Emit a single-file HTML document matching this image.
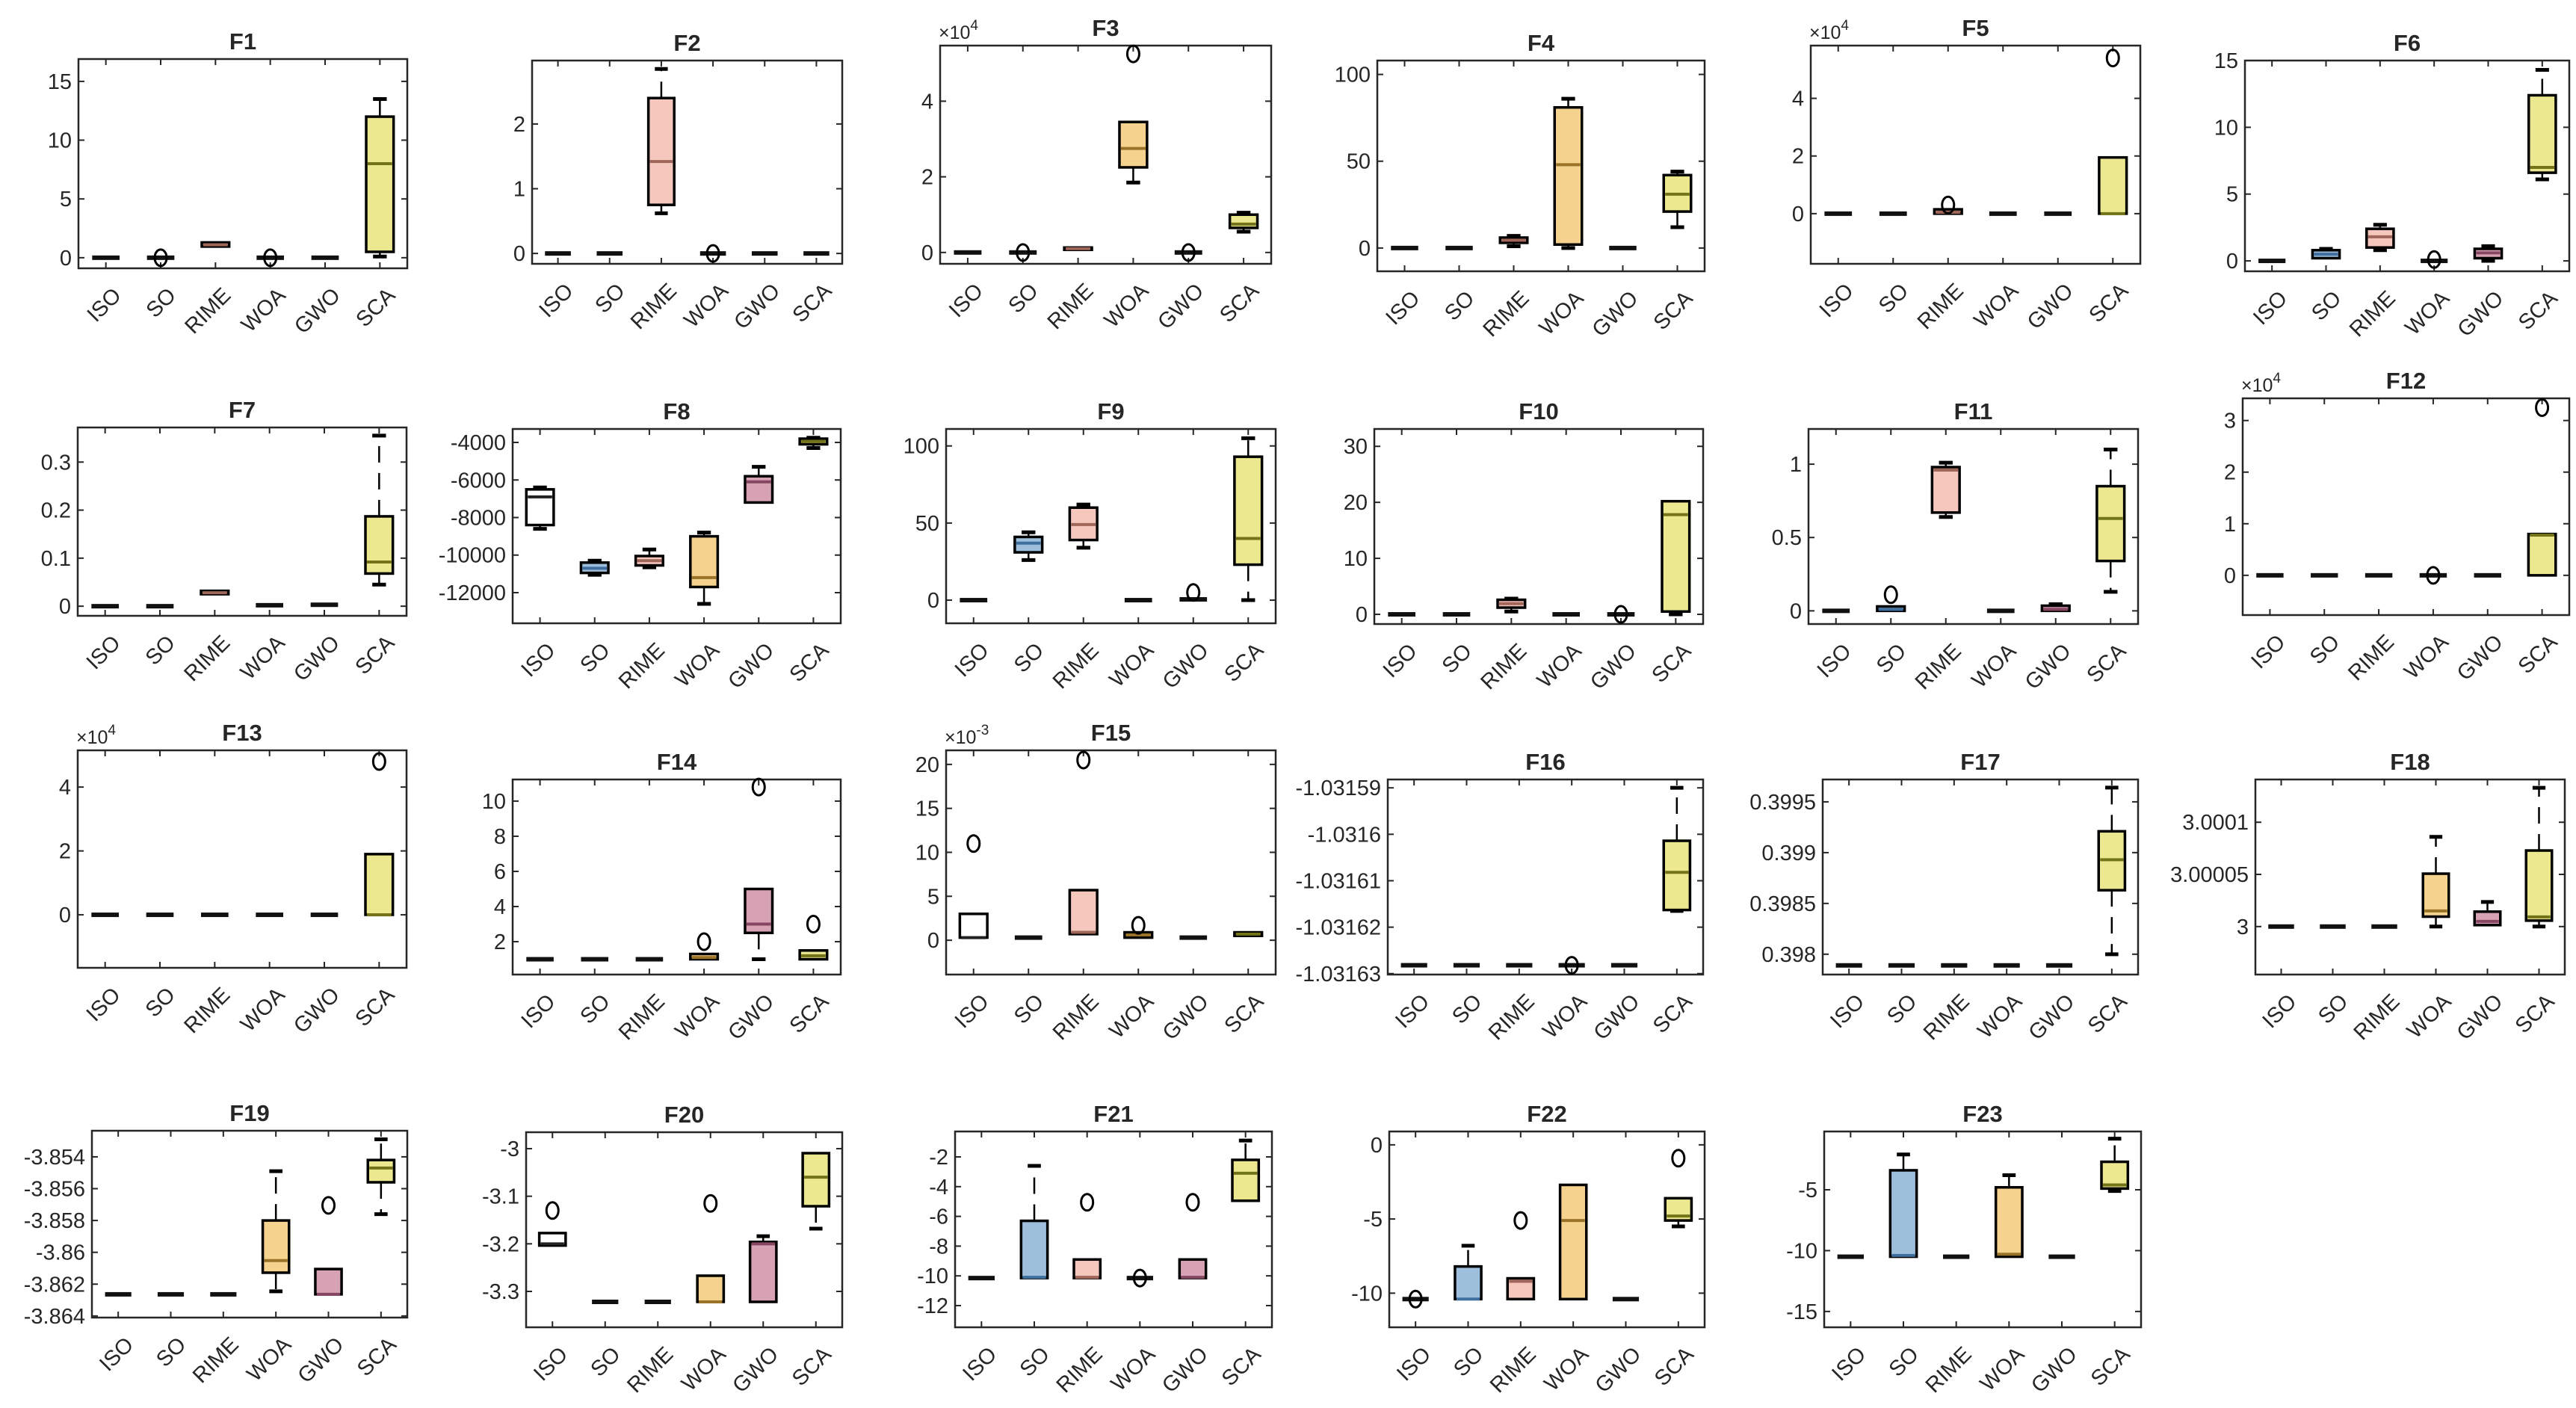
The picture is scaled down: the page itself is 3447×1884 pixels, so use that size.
<!DOCTYPE html>
<html><head><meta charset="utf-8"><title>Boxplots F1-F23</title>
<style>
html,body{margin:0;padding:0;background:#fff;}
svg{display:block;}
text{font-family:"Liberation Sans",Arial,sans-serif;fill:#262626;}
</style></head>
<body>
<svg id="fig" xmlns="http://www.w3.org/2000/svg" width="3447" height="1884" viewBox="0 0 3447 1884"></svg>
<script>
const categories = ["ISO","SO","RIME","WOA","GWO","SCA"];
const fills = ["#ffffff","#9ebfdc","#f6c7bd","#f6d28f","#d8a2b5","#ebe88f"];
const medCols = ["#222222","#3f6f9f","#a0665a","#9a7228","#864662","#737318"];

// ---- per-panel data: lo whisker, q1, median, q3, hi whisker, outliers ----
const F1_lo=[0,0,0.9,0,0,0.1], F1_q1=[0,0,0.95,0,0,0.5], F1_med=[0,0,1.1,0,0,8], F1_q3=[0,0,1.3,0,0,12], F1_hi=[0,0,1.35,0,0,13.5], F1_out=[[],[0],[],[0],[],[]];
const F2_lo=[0,0,0.62,0,0,0], F2_q1=[0,0,0.75,0,0,0], F2_med=[0,0,1.42,0,0,0], F2_q3=[0,0,2.4,0,0,0], F2_hi=[0,0,2.85,0,0,0], F2_out=[[],[],[],[0],[],[]];
const F3_lo=[0,0,0.07,1.85,0,0.55], F3_q1=[0,0,0.07,2.25,0,0.65], F3_med=[0,0,0.1,2.75,0,0.75], F3_q3=[0,0,0.13,3.45,0,1.0], F3_hi=[0,0,0.13,3.45,0,1.05], F3_out=[[],[0],[],[5.25],[0],[]];
const F4_lo=[0,0,1,0,0,12], F4_q1=[0,0,3,2,0,21], F4_med=[0,0,4.5,48,0,31], F4_q3=[0,0,6,81,0,42], F4_hi=[0,0,7,86,0,44], F4_out=[[],[],[],[],[],[]];
const F5_lo=[0,0,0,0,0,0], F5_q1=[0,0,0,0,0,0], F5_med=[0,0,0.05,0,0,0], F5_q3=[0,0,0.15,0,0,1.95], F5_hi=[0,0,0.15,0,0,1.95], F5_out=[[],[],[0.3],[],[],[5.4]];
const F6_lo=[0,0.2,0.8,0,0,6.1], F6_q1=[0,0.2,1.0,0,0.2,6.6], F6_med=[0,0.5,1.8,0,0.6,7.0], F6_q3=[0,0.8,2.4,0,0.9,12.4], F6_hi=[0,0.9,2.7,0,1.1,14.3], F6_out=[[],[],[],[0.1],[],[]];
const F7_lo=[0,0,0.024,0.001,0.002,0.045], F7_q1=[0,0,0.025,0.001,0.002,0.068], F7_med=[0,0,0.028,0.002,0.003,0.092], F7_q3=[0,0,0.032,0.003,0.004,0.187], F7_hi=[0,0,0.033,0.004,0.005,0.355], F7_out=[[],[],[],[],[],[]];
const F8_lo=[-8600,-11050,-10650,-12600,-7200,-4300], F8_q1=[-8400,-10950,-10550,-11700,-7200,-4100], F8_med=[-6900,-10700,-10300,-11200,-6100,-3950], F8_q3=[-6500,-10400,-10050,-9000,-5800,-3800], F8_hi=[-6400,-10300,-9700,-8800,-5300,-3750], F8_out=[[],[],[],[],[],[]];
const F9_lo=[0,26,34,0,0,0], F9_q1=[0,31,39,0,0,23], F9_med=[0,37,49,0,0.5,40], F9_q3=[0,41,60,0,1,93], F9_hi=[0,44,62,0,1,105], F9_out=[[],[],[],[],[5],[]];
const F10_lo=[0,0,0.5,0,0,0], F10_q1=[0,0,1.2,0,0,0.5], F10_med=[0,0,1.9,0,0,17.8], F10_q3=[0,0,2.6,0,0,20.2], F10_hi=[0,0,2.8,0,0,20.3], F10_out=[[],[],[],[],[0],[]];
const F11_lo=[0,0,0.64,0,0,0.13], F11_q1=[0,0,0.67,0,0,0.34], F11_med=[0,0.01,0.96,0,0.01,0.63], F11_q3=[0,0.03,0.98,0,0.035,0.85], F11_hi=[0,0.03,1.01,0,0.045,1.1], F11_out=[[],[0.11],[],[],[],[]];
const F12_lo=[0,0,0,0,0,0], F12_q1=[0,0,0,0,0,0], F12_med=[0,0,0,0,0,0.78], F12_q3=[0,0,0,0,0,0.8], F12_hi=[0,0,0,0,0,0.8], F12_out=[[],[],[],[0],[],[3.25]];
const F13_lo=[0,0,0,0,0,0], F13_q1=[0,0,0,0,0,0], F13_med=[0,0,0,0,0,0], F13_q3=[0,0,0,0,0,1.9], F13_hi=[0,0,0,0,0,1.9], F13_out=[[],[],[],[],[],[4.8]];
const F14_lo=[1,1,1,1,1,1], F14_q1=[1,1,1,1,2.5,1], F14_med=[1,1,1,1.1,3,1.2], F14_q3=[1,1,1,1.3,5,1.5], F14_hi=[1,1,1,1.3,5,1.5], F14_out=[[],[],[],[2],[10.8],[3]];
const F15_lo=[0.3,0.3,0.7,0.3,0.3,0.5], F15_q1=[0.3,0.3,0.7,0.3,0.3,0.5], F15_med=[0.3,0.3,0.9,0.6,0.3,0.7], F15_q3=[3,0.3,5.7,0.9,0.3,0.9], F15_hi=[3,0.3,5.7,0.9,0.3,0.9], F15_out=[[11],[],[20.5],[1.7],[],[]];
const F16_lo=[-1.0316282,-1.0316282,-1.0316282,-1.0316282,-1.0316282,-1.0316165], F16_q1=[-1.0316282,-1.0316282,-1.0316282,-1.0316282,-1.0316282,-1.0316163], F16_med=[-1.0316282,-1.0316282,-1.0316282,-1.0316282,-1.0316282,-1.0316082], F16_q3=[-1.0316282,-1.0316282,-1.0316282,-1.0316282,-1.0316282,-1.0316014], F16_hi=[-1.0316282,-1.0316282,-1.0316282,-1.0316282,-1.0316282,-1.03159], F16_out=[[],[],[],[-1.0316282],[],[]];
const F17_lo=[0.39789,0.39789,0.39789,0.39789,0.39789,0.398], F17_q1=[0.39789,0.39789,0.39789,0.39789,0.39789,0.39863], F17_med=[0.39789,0.39789,0.39789,0.39789,0.39789,0.39893], F17_q3=[0.39789,0.39789,0.39789,0.39789,0.39789,0.39921], F17_hi=[0.39789,0.39789,0.39789,0.39789,0.39789,0.39964], F17_out=[[],[],[],[],[],[]];
const F18_lo=[3,3,3,3,3.0000014,3], F18_q1=[3,3,3,3.0000095,3.0000014,3.0000057], F18_med=[3,3,3,3.000015,3.000005,3.0000093], F18_q3=[3,3,3,3.0000507,3.0000143,3.0000729], F18_hi=[3,3,3,3.000086,3.0000236,3.000133], F18_out=[[],[],[],[],[],[]];
const F19_lo=[-3.86264,-3.86264,-3.86264,-3.86245,-3.86264,-3.8576], F19_q1=[-3.86264,-3.86264,-3.86264,-3.86128,-3.86264,-3.8556], F19_med=[-3.86264,-3.86264,-3.86264,-3.86052,-3.86264,-3.8547], F19_q3=[-3.86264,-3.86264,-3.86264,-3.858,-3.86105,-3.8542], F19_hi=[-3.86264,-3.86264,-3.86264,-3.8549,-3.86105,-3.8529], F19_out=[[],[],[],[],[-3.85705],[]];
const F20_lo=[-3.2036,-3.322,-3.322,-3.322,-3.322,-3.168], F20_q1=[-3.2036,-3.322,-3.322,-3.322,-3.322,-3.121], F20_med=[-3.2,-3.322,-3.322,-3.322,-3.2,-3.06], F20_q3=[-3.1774,-3.322,-3.322,-3.267,-3.196,-3.0095], F20_hi=[-3.1774,-3.322,-3.322,-3.267,-3.184,-3.0095], F20_out=[[-3.13],[],[],[-3.115],[],[]];
const F21_lo=[-10.15,-10.15,-10.15,-10.15,-10.15,-4.95], F21_q1=[-10.15,-10.15,-10.15,-10.15,-10.15,-4.95], F21_med=[-10.15,-10.1,-10.1,-10.15,-10.1,-3.1], F21_q3=[-10.15,-6.3,-8.9,-10.15,-8.9,-2.2], F21_hi=[-10.15,-2.6,-8.9,-10.15,-8.9,-0.9], F21_out=[[],[],[-5.05],[-10.15],[-5.05],[]];
const F22_lo=[-10.4,-10.4,-10.4,-10.4,-10.4,-5.5], F22_q1=[-10.4,-10.4,-10.4,-10.4,-10.4,-5.1], F22_med=[-10.4,-10.4,-9.2,-5.1,-10.4,-4.8], F22_q3=[-10.4,-8.2,-9.0,-2.7,-10.4,-3.6], F22_hi=[-10.4,-6.8,-9.0,-2.7,-10.4,-3.6], F22_out=[[-10.4],[],[-5.1],[],[],[-0.9]];
const F23_lo=[-10.5,-10.5,-10.5,-10.5,-10.5,-5.1], F23_q1=[-10.5,-10.5,-10.5,-10.5,-10.5,-4.9], F23_med=[-10.5,-10.4,-10.5,-10.3,-10.5,-4.6], F23_q3=[-10.5,-3.4,-10.5,-4.8,-10.5,-2.7], F23_hi=[-10.5,-2.1,-10.5,-3.8,-10.5,-0.8], F23_out=[[],[],[],[],[],[]];

// ---- axis ranges & tick labels ----
const ylims = {F1:[-0.9,16.9],F2:[-0.16,2.98],F3:[-0.3,5.47],F4:[-13.4,108],F5:[-1.74,5.83],F6:[-0.78,15.0],
 F7:[-0.02,0.372],F8:[-13633,-3283],F9:[-15,111],F10:[-1.73,33.1],F11:[-0.09,1.24],F12:[-0.77,3.43],
 F13:[-1.66,5.15],F14:[0.13,11.23],F15:[-3.9,21.6],F16:[-1.0316302,-1.0315882],F17:[0.3978,0.39972],F18:[2.999954,3.000141],
 F19:[-3.8641,-3.85236],F20:[-3.3754,-2.9655],F21:[-13.46,-0.29],F22:[-12.3,0.9],F23:[-16.3,-0.21]};
const ticks = {F1:[0,5,10,15],F2:[0,1,2],F3:[0,2,4],F4:[0,50,100],F5:[0,2,4],F6:[0,5,10,15],
 F7:[0,0.1,0.2,0.3],F8:[-12000,-10000,-8000,-6000,-4000],F9:[0,50,100],F10:[0,10,20,30],F11:[0,0.5,1],F12:[0,1,2,3],
 F13:[0,2,4],F14:[2,4,6,8,10],F15:[0,5,10,15,20],F16:[-1.03163,-1.03162,-1.03161,-1.0316,-1.03159],F17:[0.398,0.3985,0.399,0.3995],F18:[3,3.00005,3.0001],
 F19:[-3.864,-3.862,-3.86,-3.858,-3.856,-3.854],F20:[-3.3,-3.2,-3.1,-3],F21:[-12,-10,-8,-6,-4,-2],F22:[-10,-5,0],F23:[-15,-10,-5]};
const tickLabels = {F16:["-1.03163","-1.03162","-1.03161","-1.0316","-1.03159"],F18:["3","3.00005","3.0001"],F17:["0.398","0.3985","0.399","0.3995"]};
const exponents = {F3:"4",F5:"4",F12:"4",F13:"4",F15:"-3"};

// ---- layout (pixel boxes: left,right,top,bottom) ----
const layout = {F1:[105,545,79,359],F2:[712,1127,81,353],F3:[1258,1701,61,353],F4:[1843,2281,81,363],F5:[2423,2864,61,353],F6:[3004,3438,81,363],
 F7:[104,544,572,824],F8:[686,1125,574,834],F9:[1266,1707,574,834],F10:[1839,2279,574,835],F11:[2420,2861,574,835],F12:[3001,3438,533,823],
 F13:[104,544,1004,1295],F14:[686,1125,1043,1304],F15:[1266,1707,1004,1304],F16:[1857,2279,1043,1304],F17:[2439,2861,1043,1304],F18:[3018,3432,1043,1304],
 F19:[123,545,1513,1763],F20:[704,1127,1515,1776],F21:[1278,1702,1514,1776],F22:[1859,2281,1514,1776],F23:[2441,2865,1514,1776]};

const panelData = {F1:[F1_lo,F1_q1,F1_med,F1_q3,F1_hi,F1_out],F2:[F2_lo,F2_q1,F2_med,F2_q3,F2_hi,F2_out],F3:[F3_lo,F3_q1,F3_med,F3_q3,F3_hi,F3_out],
 F4:[F4_lo,F4_q1,F4_med,F4_q3,F4_hi,F4_out],F5:[F5_lo,F5_q1,F5_med,F5_q3,F5_hi,F5_out],F6:[F6_lo,F6_q1,F6_med,F6_q3,F6_hi,F6_out],
 F7:[F7_lo,F7_q1,F7_med,F7_q3,F7_hi,F7_out],F8:[F8_lo,F8_q1,F8_med,F8_q3,F8_hi,F8_out],F9:[F9_lo,F9_q1,F9_med,F9_q3,F9_hi,F9_out],
 F10:[F10_lo,F10_q1,F10_med,F10_q3,F10_hi,F10_out],F11:[F11_lo,F11_q1,F11_med,F11_q3,F11_hi,F11_out],F12:[F12_lo,F12_q1,F12_med,F12_q3,F12_hi,F12_out],
 F13:[F13_lo,F13_q1,F13_med,F13_q3,F13_hi,F13_out],F14:[F14_lo,F14_q1,F14_med,F14_q3,F14_hi,F14_out],F15:[F15_lo,F15_q1,F15_med,F15_q3,F15_hi,F15_out],
 F16:[F16_lo,F16_q1,F16_med,F16_q3,F16_hi,F16_out],F17:[F17_lo,F17_q1,F17_med,F17_q3,F17_hi,F17_out],F18:[F18_lo,F18_q1,F18_med,F18_q3,F18_hi,F18_out],
 F19:[F19_lo,F19_q1,F19_med,F19_q3,F19_hi,F19_out],F20:[F20_lo,F20_q1,F20_med,F20_q3,F20_hi,F20_out],F21:[F21_lo,F21_q1,F21_med,F21_q3,F21_hi,F21_out],
 F22:[F22_lo,F22_q1,F22_med,F22_q3,F22_hi,F22_out],F23:[F23_lo,F23_q1,F23_med,F23_q3,F23_hi,F23_out]};

const NS="http://www.w3.org/2000/svg";
const svg=document.getElementById('fig');
function mk(tag,attrs,parent){const e=document.createElementNS(NS,tag);for(const k in attrs)e.setAttribute(k,attrs[k]);(parent||svg).appendChild(e);return e;}

Object.keys(layout).forEach(function(name){
  const [L,R,T,B]=layout[name];
  const [ymin,ymax]=ylims[name];
  const yS=v=>B-(v-ymin)/(ymax-ymin)*(B-T);
  const step=(R-L)/6;
  const xS=i=>L+(i+0.5)*step;
  const g=mk('g',{});
  
  
  const fr=mk('rect',{x:L,y:T,width:R-L,height:B-T,fill:'#fff',stroke:'#262626','stroke-width':2.5},g);
  
  
  const t=mk('text',{x:(L+R)/2,y:T-13,'text-anchor':'middle','font-size':31,'font-weight':'bold',fill:'#000'},g);
  t.textContent=name;
  
  
  if(exponents[name]){
    const ex=mk('text',{x:L-2,y:T-9,'font-size':25},g);
    
    
    ex.appendChild(document.createTextNode('\u00d710'));
    const sp=mk('tspan',{dy:-12,'font-size':19},ex);sp.textContent=exponents[name];
  }
  const tl=tickLabels[name];
  ticks[name].forEach(function(v,k){
    const y=yS(v);
    mk('line',{x1:L,x2:L+8,y1:y,y2:y,stroke:'#262626','stroke-width':2},g);
    mk('line',{x1:R,x2:R-8,y1:y,y2:y,stroke:'#262626','stroke-width':2},g);
    const lab=mk('text',{x:L-9,y:y+10,'text-anchor':'end','font-size':29},g);
    lab.textContent=tl?tl[k]:String(v);
    
    
  });
  categories.forEach(function(c,i){
    const x=xS(i);
    mk('line',{x1:x,x2:x,y1:B,y2:B-8,stroke:'#262626','stroke-width':2},g);
    mk('line',{x1:x,x2:x,y1:T,y2:T+8,stroke:'#262626','stroke-width':2},g);
    const lab=mk('text',{x:0,y:0,'text-anchor':'end','font-size':29,transform:'translate('+(x+22)+','+(B+38)+') rotate(-45)'},g);
    lab.textContent=c;
    
    
  });
  const [lo,q1,md,q3,hi,out]=panelData[name];
  const bw=step*0.5, cw=step*0.25;
  categories.forEach(function(c,i){
    const x=xS(i);
    const bg=mk('g',{},g);
    
    
    const yq1=yS(q1[i]),yq3=yS(q3[i]),ylo=yS(lo[i]),yhi=yS(hi[i]),ym=yS(md[i]);
    if(yhi<yq3-1){
      mk('line',{x1:x,x2:x,y1:yq3,y2:yhi,stroke:'#000','stroke-width':2.5,'stroke-dasharray':'22,14'},bg);
      mk('line',{x1:x-cw/2,x2:x+cw/2,y1:yhi,y2:yhi,stroke:'#000','stroke-width':5},bg);
    }
    if(ylo>yq1+1){
      mk('line',{x1:x,x2:x,y1:yq1,y2:ylo,stroke:'#000','stroke-width':2.5,'stroke-dasharray':'22,14'},bg);
      mk('line',{x1:x-cw/2,x2:x+cw/2,y1:ylo,y2:ylo,stroke:'#000','stroke-width':5},bg);
    }
    const h=Math.max(yq1-yq3,0);
    if(h>3){
      mk('rect',{x:x-bw/2,y:yq3,width:bw,height:h,fill:fills[i],stroke:'#000','stroke-width':3.5},bg);
      mk('line',{x1:x-bw/2+2,x2:x+bw/2-2,y1:ym,y2:ym,stroke:medCols[i],'stroke-width':4},bg);
    } else {
      mk('rect',{x:x-bw/2,y:ym-3,width:bw,height:6,fill:'#111',stroke:'none'},bg);
    }
    out[i].forEach(function(v){
      const o=mk('ellipse',{cx:x,cy:yS(v),rx:8,ry:11,fill:'none',stroke:'#000','stroke-width':3},bg);
      
      
    });
  });
});
</script>
</body></html>
